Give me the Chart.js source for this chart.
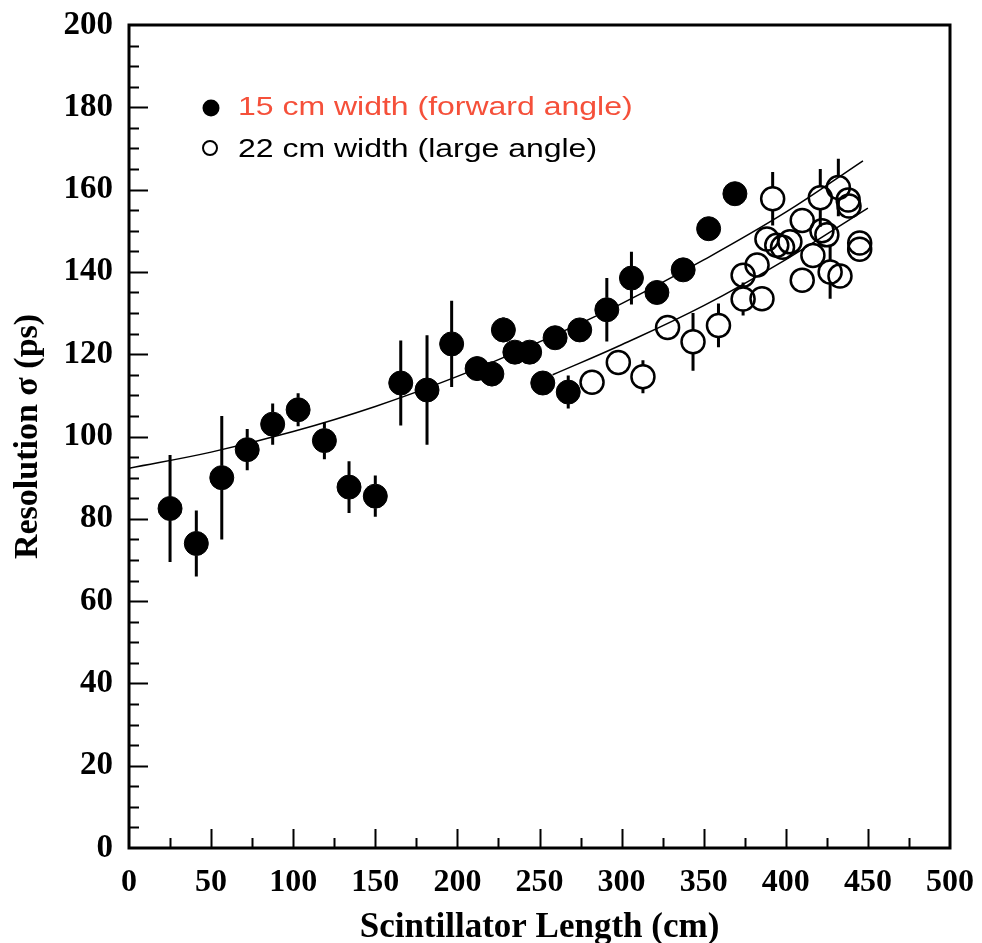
<!DOCTYPE html>
<html>
<head>
<meta charset="utf-8">
<script src="https://cdn.jsdelivr.net/npm/chart.js@4.4.1/dist/chart.umd.min.js"></script>
<style>
  html, body { margin: 0; padding: 0; background: #fff; }
  #wrap { width: 982px; height: 943px; }
</style>
</head>
<body>
<div id="wrap"><canvas id="plot"></canvas></div>
<script>
// 15 cm width (forward angle) - filled markers
const fwdX   = [25, 41, 56.5, 72, 87.5, 103, 119, 134, 150, 165.5, 181.5, 196.5, 212, 221, 228, 235, 244, 252, 259.5, 267.5, 274.5, 291, 306, 321.5, 337.5, 353, 369];
const fwdY   = [82.5, 74, 90, 96.8, 103, 106.5, 99, 87.7, 85.5, 113, 111.3, 122.5, 116.5, 115.2, 125.9, 120.5, 120.5, 113, 124, 110.8, 125.9, 130.8, 138.5, 135, 140.5, 150.5, 159];
const fwdErr = [13, 8, 15, 5, 5, 4, 4.5, 6.3, 5, 10.3, 13.3, 10.5, 3, 3, 3, 2, 2, 2, 2, 4, 2, 7.7, 6.4, 2, 2, 2, 2];

// 22 cm width (large angle) - open markers
const lrgX   = [282, 298, 313, 328, 343.5, 359, 374, 374, 382.5, 385.5, 388.5, 392, 394.5, 398, 402.5, 410, 410, 416.5, 421, 422, 425, 427, 433, 432, 438, 438.5, 445, 445];
const lrgY   = [113.2, 118, 114.5, 126.5, 123, 127, 133.4, 139.2, 141.7, 133.5, 148, 157.8, 146.5, 146, 147.3, 152.5, 138, 144, 158, 150, 149, 140, 139, 160.5, 157.5, 156, 147, 145.5];
const lrgErr = [2, 2, 4, 2, 7, 5.3, 4, 2, 2, 2, 2, 6.5, 2, 2, 2, 2, 2, 2, 7, 2, 2, 6.5, 2, 7, 2, 2, 2, 2];

// fit curves
const fitFwdX = [0, 50, 100, 150, 200, 250, 300, 350, 400, 447];
const fitFwdY = [92.3, 96.2, 101.2, 107.3, 114.6, 123, 132.3, 142.9, 154.5, 167];
const fitLrgX = [258, 300, 350, 400, 450];
const fitLrgY = [115, 122.3, 131.8, 143, 155.5];

const xTicks = [0, 50, 100, 150, 200, 250, 300, 350, 400, 450, 500];
const yTicks = [0, 20, 40, 60, 80, 100, 120, 140, 160, 180, 200];

const pts = (xs, ys, es) => xs.map((x, i) => ({ x: x, y: ys[i], e: es ? es[i] : 0 }));

// error bars, drawn behind markers and left out inside the marker circle
const errorBars = {
  id: 'errorBars',
  beforeDatasetsDraw(chart) {
    const ctx = chart.ctx;
    const ys = chart.scales.y;
    ctx.save();
    ctx.strokeStyle = '#000';
    ctx.lineWidth = 3;
    chart.data.datasets.forEach((ds, di) => {
      if (!ds.errBars) return;
      const meta = chart.getDatasetMeta(di);
      const r = ds.pointRadius;
      ds.data.forEach((p, i) => {
        const el = meta.data[i];
        const top = ys.getPixelForValue(p.y + p.e);
        const bot = ys.getPixelForValue(p.y - p.e);
        ctx.beginPath();
        if (top < el.y - r) { ctx.moveTo(el.x, top); ctx.lineTo(el.x, el.y - r); }
        if (bot > el.y + r) { ctx.moveTo(el.x, el.y + r); ctx.lineTo(el.x, bot); }
        ctx.stroke();
      });
    });
    ctx.restore();
  }
};

// frame, inward ticks and legend
const frame = {
  id: 'frame',
  afterDraw(chart) {
    const ctx = chart.ctx;
    const a = chart.chartArea;
    const xs = chart.scales.x, ys = chart.scales.y;
    ctx.save();
    ctx.strokeStyle = '#000';
    ctx.lineWidth = 2;
    ctx.beginPath();
    for (let v = 5; v < 200; v += 5) {
      const py = Math.round(ys.getPixelForValue(v)) + 0.5;
      const len = v % 20 === 0 ? 19 : 10;
      ctx.moveTo(a.left, py); ctx.lineTo(a.left + len, py);
    }
    for (let v = 25; v < 500; v += 25) {
      const px = Math.round(xs.getPixelForValue(v)) + 0.5;
      const len = v % 50 === 0 ? 19 : 10;
      ctx.moveTo(px, a.bottom); ctx.lineTo(px, a.bottom - len);
    }
    ctx.stroke();
    ctx.lineWidth = 3;
    ctx.strokeRect(a.left, a.top, a.right - a.left, a.bottom - a.top);

    // legend
    ctx.fillStyle = '#000';
    ctx.beginPath(); ctx.arc(a.left + 82, a.top + 83, 8.5, 0, 2 * Math.PI); ctx.fill();
    ctx.lineWidth = 2;
    ctx.beginPath(); ctx.arc(a.left + 81, a.top + 123, 7, 0, 2 * Math.PI); ctx.stroke();
    ctx.font = '26px "Liberation Sans", Arial, sans-serif';
    ctx.textBaseline = 'middle';
    ctx.translate(a.left + 109, 0);
    ctx.scale(1.23, 1);
    ctx.fillStyle = '#f5503a';
    ctx.fillText('15 cm width (forward angle)', 0, a.top + 83);
    ctx.fillStyle = '#000';
    ctx.fillText('22 cm width (large angle)', 0, a.top + 125);
    ctx.restore();
  }
};

const serif = '"Liberation Serif", "Times New Roman", serif';

// keep tick labels from pushing the plot frame around
const noOverflow = (s) => { s.paddingTop = 0; s.paddingBottom = 0; s.paddingLeft = 0; s.paddingRight = 0; };

new Chart(document.getElementById('plot'), {
  type: 'scatter',
  data: {
    datasets: [
      {
        label: '15 cm width (forward angle)',
        data: pts(fwdX, fwdY, fwdErr),
        errBars: true,
        pointRadius: 12,
        pointBackgroundColor: '#000',
        pointBorderColor: '#000',
        pointBorderWidth: 1,
        order: 0
      },
      {
        label: '22 cm width (large angle)',
        data: pts(lrgX, lrgY, lrgErr),
        errBars: true,
        pointRadius: 11.5,
        pointBackgroundColor: 'rgba(255,255,255,0)',
        pointBorderColor: '#000',
        pointBorderWidth: 2.5,
        order: 0
      },
      {
        label: 'fit 15',
        data: pts(fitFwdX, fitFwdY),
        showLine: true,
        borderColor: '#000',
        borderWidth: 1.5,
        pointRadius: 0,
        tension: 0.4,
        order: 2
      },
      {
        label: 'fit 22',
        data: pts(fitLrgX, fitLrgY),
        showLine: true,
        borderColor: '#000',
        borderWidth: 1.5,
        pointRadius: 0,
        tension: 0.4,
        order: 2
      }
    ]
  },
  options: {
    responsive: true,
    maintainAspectRatio: false,
    animation: false,
    layout: { padding: { left: 0, top: 25, right: 32, bottom: 0 } },
    plugins: { legend: { display: false }, tooltip: { enabled: false } },
    scales: {
      x: {
        type: 'linear',
        min: 0, max: 500,
        afterBuildTicks: (s) => { s.ticks = xTicks.map(v => ({ value: v })); },
        afterFit: (s) => { s.height = 95; noOverflow(s); },
        grid: { display: false, drawTicks: false },
        border: { display: false },
        ticks: {
          color: '#000',
          padding: 16,
          font: { family: serif, weight: 'bold', size: 32 }
        },
        title: {
          display: true,
          text: 'Scintillator Length (cm)',
          color: '#000',
          padding: { top: 0, bottom: 0 },
          font: { family: serif, weight: 'bold', size: 35, lineHeight: 0.85 }
        }
      },
      y: {
        min: 0, max: 200,
        afterBuildTicks: (s) => { s.ticks = yTicks.map(v => ({ value: v })); },
        afterFit: (s) => { s.width = 129; noOverflow(s); },
        grid: { display: false, drawTicks: false },
        border: { display: false },
        ticks: {
          color: '#000',
          padding: 16,
          font: { family: serif, weight: 'bold', size: 33 }
        },
        title: {
          display: true,
          text: 'Resolution σ (ps)',
          color: '#000',
          padding: { top: 8, bottom: 0 },
          font: { family: serif, weight: 'bold', size: 34 }
        }
      }
    }
  },
  plugins: [errorBars, frame]
});
</script>
</body>
</html>
